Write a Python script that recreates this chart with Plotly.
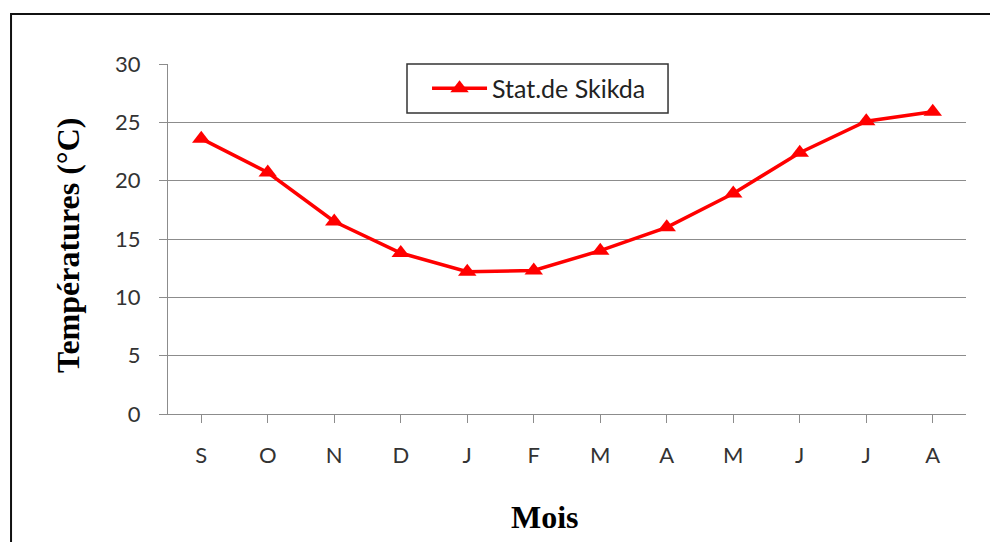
import plotly.graph_objects as go

# Températures moyennes mensuelles - station de Skikda
mois = ["S", "O", "N", "D", "J", "F", "M", "A", "M", "J", "J", "A"]
temperatures = [23.6, 20.7, 16.5, 13.8, 12.2, 12.3, 14.0, 16.0, 18.9, 22.4, 25.1, 25.9]
y_ticks = [0, 5, 10, 15, 20, 25, 30]

x_pos = list(range(len(mois)))

fig = go.Figure()
fig.add_trace(go.Scatter(
    x=x_pos, y=temperatures,
    mode="lines+markers",
    name="Stat.de Skikda",
    line=dict(color="#FF0000", width=3.5),
    marker=dict(symbol="triangle-up", size=16, color="#FF0000"),
))

grid = "#8c8c8c"
tick_font = dict(family="Lato, Noto Sans, sans-serif", size=22, color="#333333")
title_font = dict(family="Liberation Serif, Times New Roman, serif", size=32, color="black")

# la page a une marge de 8 px : on compense dans les marges
fig.update_layout(
    width=998, height=542,
    margin=dict(l=160, r=40, t=56, b=136),
    paper_bgcolor="white", plot_bgcolor="white",
    showlegend=True,
    legend=dict(
        x=0.3246, y=0.930, xanchor="left", yanchor="middle",
        borderwidth=0,
        bgcolor="rgba(0,0,0,0)",
        font=dict(family="Lato, Noto Sans, sans-serif", size=25, color="#222222"),
        itemwidth=55,
        tracegroupgap=0,
    ),
    xaxis=dict(
        range=[-0.5, 11.5],
        tickmode="array", tickvals=x_pos, ticktext=mois,
        showgrid=False, zeroline=False,
        showline=True, linecolor=grid, linewidth=1,
        ticks="outside", ticklen=8, tickcolor=grid,
        tickfont=tick_font, ticklabelstandoff=14,
        tickson="boundaries",
    ),
    yaxis=dict(
        range=[0, 30],
        tickmode="array", tickvals=y_ticks,
        showgrid=True, gridcolor=grid, gridwidth=1,
        zeroline=False,
        showline=True, linecolor=grid, linewidth=1,
        ticks="outside", ticklen=8, tickcolor=grid,
        tickfont=tick_font, ticklabelstandoff=14,
    ),
    annotations=[
        dict(text="<b>Températures (°C)</b>", textangle=-90,
             xref="paper", yref="paper", x=-0.1253, y=0.48,
             xanchor="center", yanchor="middle", showarrow=False,
             font=title_font),
        dict(text="<b>Mois</b>",
             xref="paper", yref="paper", x=0.4724, y=-0.294,
             xanchor="center", yanchor="middle", showarrow=False,
             font=title_font),
    ],
    shapes=[
        # cadre du graphique
        dict(type="rect", xref="paper", yref="paper",
             x0=-0.1967, x1=1.06, y0=-0.40, y1=1.1429,
             line=dict(color="#111111", width=2), fillcolor="rgba(0,0,0,0)", layer="below"),
        # cadre de la légende
        dict(type="rect", xref="paper", yref="paper",
             x0=0.2995, x1=0.6266, y0=0.86, y1=1.0,
             line=dict(color="#333333", width=1.5), fillcolor="white", layer="between"),
    ],
)

fig.write_html("out.html")
